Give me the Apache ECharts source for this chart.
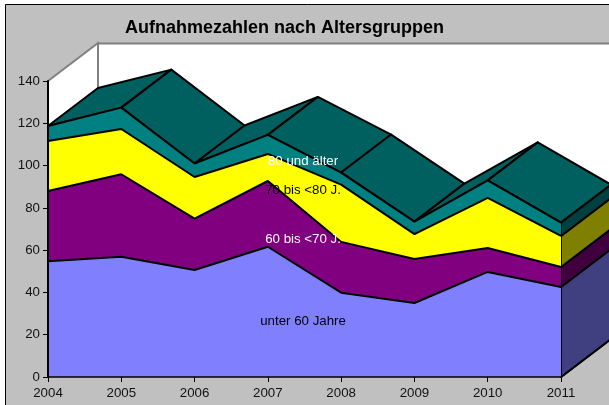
<!DOCTYPE html>
<html><head><meta charset="utf-8">
<style>html,body{margin:0;padding:0;background:#fff;overflow:hidden}#c{width:609px;height:405px}</style>
<script src="https://cdn.jsdelivr.net/npm/echarts@6/dist/echarts.min.js"></script>
</head><body><div id="c"></div>
<script>
const categories = ['2004','2005','2006','2007','2008','2009','2010','2011'];
const unter60 = [54.7,56.9,50.6,61.6,39.9,35,49.7,42.6];
const von60bis70 = [33.3,39,24.3,31.1,24,20.8,11.3,9.4];
const von70bis80 = [23.6,21.4,19.7,12.8,27.1,11.8,23.7,14.7];
const ab80 = [7.1,10.1,6.4,9,5.7,5.9,8.3,6.3];
const seriesNames = ['unter 60 Jahre','60 bis <70 J.','70 bis <80 J.','80 und älter'];
const labelHeights = [26.5,65,88.5,102];
const labelColors = ['#000000','#ffffff','#000000','#ffffff'];
const frontColors = ['#8080ff','#800080','#ffff00','#008080'];
const sideColors = ['#404080','#400040','#808000','#004040'];
const topColor = '#006060';
const yTicks = {min:0,max:140,interval:20};
const labelSlot = {from:3,to:4,frac:0.48};
const depth = {dx:50,dy:-38};

const values = [unter60,von60bis70,von70bis80,ab80];
const cum = [];
values.forEach((v,i)=>cum.push(v.map((d,j)=>d+(i?cum[i-1][j]:0))));
const top4 = cum[3];
const last = categories.length-1;

function poly(points,fill,stroke,lw){
  return {type:'polygon',shape:{points},style:{fill,stroke:stroke||'none',lineWidth:lw||0,lineJoin:'round'}};
}
const sh = p=>[p[0]+depth.dx,p[1]+depth.dy];

function wallsItem(params,api){
  const a=api.coord([0,yTicks.max]), b=api.coord([0,0]), c=api.coord([last,0]), d=api.coord([last,yTicks.max]);
  const children=[
    poly([sh(a),sh(d),sh(c),sh(b)],'#ffffff'),
    poly([a,sh(a),sh(b),b],'#ffffff'),
    {type:'polyline',shape:{points:[a,sh(a),sh(b)]},style:{fill:'none',stroke:'#808080',lineWidth:2}},
    {type:'line',shape:{x1:sh(a)[0],y1:sh(a)[1]+0.5,x2:sh(d)[0],y2:sh(d)[1]+0.5},style:{stroke:'#808080',lineWidth:2}},
    {type:'line',shape:{x1:c[0],y1:c[1],x2:sh(c)[0],y2:sh(c)[1]},style:{stroke:'#000',lineWidth:2}}
  ];
  return {type:'group',children};
}
function topItem(params,api){
  const i=params.dataIndex; if(i>=last) return null;
  const p=api.coord([i,top4[i]]), q=api.coord([i+1,top4[i+1]]);
  return poly([p,q,sh(q),sh(p)],topColor,'#000',2);
}
function sideItem(params,api){
  const s=params.dataIndex;
  const lo=s?cum[s-1][last]:0, hi=cum[s][last];
  const p=api.coord([last,lo]), q=api.coord([last,hi]);
  return poly([p,q,sh(q),sh(p)],sideColors[s],'#000',2);
}
function labelItem(params,api){
  const i=params.dataIndex;
  const p0=api.coord([labelSlot.from,labelHeights[i]]), p1=api.coord([labelSlot.to,labelHeights[i]]);
  const x=p0[0]+(p1[0]-p0[0])*labelSlot.frac;
  return {type:'text',x:x,y:p0[1],z2:100,style:{text:seriesNames[i],fill:labelColors[i],font:'13.3px "Liberation Sans"',align:'center',verticalAlign:'middle'}};
}

const series=[
  {type:'custom',renderItem:wallsItem,data:[0],z:1,silent:true,clip:false,animation:false},
  {type:'custom',renderItem:topItem,data:categories.map((c,i)=>i),z:2,silent:true,clip:false,animation:false},
  {type:'custom',renderItem:sideItem,data:seriesNames.map((c,i)=>i),z:2,silent:true,clip:false,animation:false}
];
values.forEach((v,i)=>series.push({
  name:seriesNames[i],type:'line',stack:'a',data:v,symbol:'none',z:3,
  lineStyle:{color:'#000',width:2},areaStyle:{color:frontColors[i],opacity:1},animation:false
}));
series.push({type:'custom',renderItem:labelItem,data:seriesNames.map((c,i)=>i),z:6,silent:true,clip:false,animation:false});

const chart=echarts.init(document.getElementById('c'),null,{renderer:'canvas'});
chart.setOption({
  animation:false,
  backgroundColor:'transparent',
  graphic:[{type:'rect',z:-10,silent:true,shape:{x:5.5,y:4.5,width:800,height:600},style:{fill:'#c0c0c0',stroke:'#000',lineWidth:1}}],
  title:{text:'Aufnahmezahlen nach Altersgruppen',left:279.5,top:14,textAlign:'center',
    textStyle:{fontFamily:'Liberation Sans',fontWeight:'bold',fontSize:18,color:'#000'}},
  grid:{left:48,right:48,top:81,bottom:28,containLabel:false},
  xAxis:{type:'category',data:categories,boundaryGap:false,z:5,
    axisLine:{lineStyle:{color:'#000',width:1.5}},axisTick:{show:true,length:5,lineStyle:{color:'#000'},alignWithLabel:true},
    axisLabel:{color:'#111',fontFamily:'Liberation Sans',fontSize:13.3,margin:10,showMinLabel:true,showMaxLabel:true,interval:0},splitLine:{show:false}},
  yAxis:{type:'value',min:yTicks.min,max:yTicks.max,interval:yTicks.interval,z:5,
    axisLine:{show:true,lineStyle:{color:'#000',width:2}},axisTick:{show:true,length:5,lineStyle:{color:'#000'}},
    axisLabel:{color:'#111',fontFamily:'Liberation Sans',fontSize:13.3,margin:8},splitLine:{show:false}},
  series
});
</script></body></html>
